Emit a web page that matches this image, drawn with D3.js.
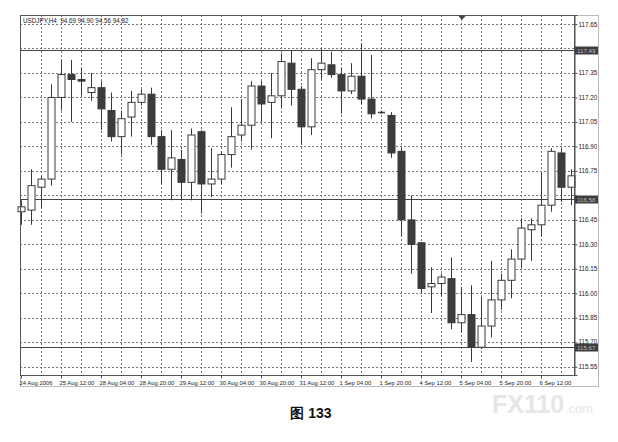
<!DOCTYPE html>
<html>
<head>
<meta charset="utf-8">
<script src="https://cdn.jsdelivr.net/npm/d3@7/dist/d3.min.js"></script>
<style>
  html, body { margin: 0; padding: 0; background: #fff; }
  svg { display: block; }
  text { font-family: "Liberation Sans", Arial, sans-serif; }
</style>
</head>
<body>
<svg id="chart" width="618" height="442"></svg>
<script>
// ---- data ----
const openVals  = [116.50,116.51,116.65,116.70,117.20,117.34,117.31,117.23,117.26,117.12,
                   116.96,117.08,117.17,117.22,116.96,116.76,116.82,116.68,116.99,116.67,
                   116.70,116.85,116.97,117.03,117.27,117.17,117.21,117.41,117.25,117.02,
                   117.37,117.40,117.34,117.24,117.33,117.19,117.11,117.09,116.87,116.45,
                   116.31,116.04,116.06,116.09,115.82,115.87,115.67,115.80,115.96,116.08,
                   116.21,116.39,116.42,116.54,116.86,116.65];
const highVals  = [116.57,116.76,116.72,117.28,117.43,117.43,117.38,117.35,117.30,117.23,
                   117.12,117.24,117.25,117.26,117.00,117.00,116.88,117.01,117.00,116.89,
                   116.87,117.14,117.19,117.30,117.30,117.35,117.47,117.49,117.27,117.44,
                   117.50,117.48,117.38,117.41,117.53,117.46,117.12,117.11,116.89,116.60,
                   116.31,116.16,116.12,116.22,116.04,116.05,115.98,116.20,116.12,116.27,
                   116.46,116.46,116.74,116.89,116.89,116.76];
const lowVals   = [116.42,116.42,116.52,116.66,117.12,117.05,117.21,117.18,117.00,116.93,
                   116.85,116.96,117.15,116.91,116.67,116.57,116.57,116.57,116.49,116.59,
                   116.67,116.77,116.93,116.88,117.05,116.95,117.14,117.15,116.91,116.97,
                   117.31,117.32,117.10,117.22,117.16,117.07,117.10,116.83,116.35,116.12,
                   116.00,115.88,115.98,115.78,115.76,115.58,115.66,115.73,115.90,115.97,
                   116.16,116.20,116.35,116.50,116.56,116.54];
const closeVals = [116.53,116.66,116.70,117.20,117.34,117.31,117.30,117.26,117.13,116.96,
                   117.07,117.17,117.22,116.96,116.76,116.83,116.68,116.97,116.67,116.70,
                   116.85,116.96,117.03,117.27,117.16,117.21,117.42,117.25,117.02,117.37,
                   117.41,117.34,117.24,117.33,117.19,117.10,117.11,116.86,116.45,116.30,
                   116.03,116.06,116.10,115.82,115.87,115.67,115.80,115.96,116.08,116.21,
                   116.40,116.42,116.54,116.87,116.65,116.72];

const xTickLabels = ["24 Aug 2006","25 Aug 12:00","28 Aug 04:00","28 Aug 20:00","29 Aug 12:00",
                     "30 Aug 04:00","30 Aug 20:00","31 Aug 12:00","1 Sep 04:00","1 Sep 20:00",
                     "4 Sep 12:00","5 Sep 04:00","5 Sep 20:00","6 Sep 12:00"];
const yTickValues = [115.55,115.70,115.85,116.00,116.15,116.30,116.45,116.60,116.75,116.90,
                     117.05,117.20,117.35,117.50,117.65];
const yTickLabels = ["115.55","115.70","115.85","116.00","116.15","116.30","116.45","",
                     "116.75","116.90","117.05","117.20","117.35","","117.65"];
const levelVals   = [117.49, 116.58, 115.67];
const levelLabels = ["117.49", "116.58", "115.67"];
const titleText   = "USDJPY,H4  94.69 94.90 94.56 94.82";
const captionText = "图 133";

// ---- layout ----
const L = 20, R = 574, T = 15, B = 375;
const svg = d3.select("#chart");
const idx = d3.range(openVals.length);

const x = d3.scalePoint().domain(idx).range([21, 571]);
const y = d3.scaleLinear().domain([115.50, 117.705]).range([B, T]);

// outer frame
svg.append("rect").attr("x", L + 0.5).attr("y", T + 0.5)
  .attr("width", 598 - L).attr("height", 386 - T)
  .attr("fill", "none").attr("stroke", "#bbb");

// grid
const gridCol = "#777";
svg.append("g").selectAll("line").data(yTickValues).join("line")
  .attr("x1", L).attr("x2", R)
  .attr("y1", d => Math.round(y(d)) + 0.5).attr("y2", d => Math.round(y(d)) + 0.5)
  .attr("stroke", gridCol).attr("stroke-dasharray", "2,2").attr("stroke-width", 1);
svg.append("g").selectAll("line").data(idx.filter(i => i > 0 && i % 2 === 0)).join("line")
  .attr("x1", d => x(d) + 0.5).attr("x2", d => x(d) + 0.5)
  .attr("y1", T).attr("y2", B)
  .attr("stroke", gridCol).attr("stroke-dasharray", "2,2").attr("stroke-width", 1);

// horizontal level lines
svg.append("g").selectAll("line").data(levelVals).join("line")
  .attr("x1", L).attr("x2", R)
  .attr("y1", d => Math.round(y(d)) + 0.5).attr("y2", d => Math.round(y(d)) + 0.5)
  .attr("stroke", "#444").attr("stroke-width", 1);

// candles
const g = svg.append("g");
const bw = 7;
idx.forEach(i => {
  const o = openVals[i], c = closeVals[i], h = highVals[i], l = lowVals[i];
  const cx = x(i) + 0.5;
  g.append("line").attr("x1", cx).attr("x2", cx)
    .attr("y1", y(h)).attr("y2", y(l))
    .attr("stroke", "#3a3a3a").attr("stroke-width", 1);
  const top = y(Math.max(o, c)), bot = y(Math.min(o, c));
  if (bot - top < 1.5) {
    g.append("line").attr("x1", cx - bw / 2).attr("x2", cx + bw / 2)
      .attr("y1", Math.round(top) + 0.5).attr("y2", Math.round(top) + 0.5)
      .attr("stroke", "#3a3a3a").attr("stroke-width", 1.5);
  } else {
    g.append("rect").attr("x", cx - bw / 2).attr("y", top)
      .attr("width", bw).attr("height", bot - top)
      .attr("fill", c >= o ? "#fff" : "#3c3c3c")
      .attr("stroke", "#3a3a3a").attr("stroke-width", 1);
  }
});

// plot border
svg.append("rect").attr("x", L + 0.5).attr("y", T + 0.5)
  .attr("width", R - L).attr("height", B - T)
  .attr("fill", "none").attr("stroke", "#555");

// y axis
const yAxis = d3.axisRight(y).tickValues(yTickValues)
  .tickFormat((d, i) => yTickLabels[i]).tickSize(3).tickPadding(1);
const ya = svg.append("g").attr("transform", `translate(${R + 0.5},0)`).call(yAxis);
ya.select(".domain").attr("stroke", "#555");
ya.selectAll(".tick line").attr("stroke", "#555");
ya.selectAll(".tick text").attr("font-size", 6.3).attr("fill", "#222")
  .attr("font-family", "Liberation Sans, Arial, sans-serif");
// nudge the 115.70 label up slightly so it clears the highlighted 115.67 box
ya.selectAll(".tick").filter(d => Math.abs(d - 115.70) < 1e-6).select("text").attr("dy", "0.12em");

// level labels (highlighted)
levelVals.forEach((v, k) => {
  const yy = Math.round(y(v));
  svg.append("rect").attr("x", R + 1).attr("y", yy - 3.5).attr("width", 23).attr("height", 8)
    .attr("fill", "#3e3e3e");
  svg.append("text").attr("x", R + 3).attr("y", yy + 2.6).text(levelLabels[k])
    .attr("font-size", 6.2).attr("fill", "#bbb");
});

// x axis
const xTickIdx = idx.filter(i => i % 4 === 0);
const xAxis = d3.axisBottom(x).tickValues(xTickIdx)
  .tickFormat((d, i) => xTickLabels[i]).tickSize(3).tickPadding(2);
const xa = svg.append("g").attr("transform", `translate(0,${B + 0.5})`).call(xAxis);
xa.select(".domain").remove();
xa.selectAll(".tick line").attr("stroke", "#555");
xa.selectAll("text").attr("font-size", 5.9).attr("fill", "#222")
  .attr("text-anchor", "start").attr("dx", -2)
  .attr("font-family", "Liberation Sans, Arial, sans-serif");

// title
svg.append("text").attr("x", 23).attr("y", 23).text(titleText)
  .attr("font-size", 6.3).attr("fill", "#222").attr("xml:space", "preserve");

// shift marker
svg.append("path").attr("d", "M458,15.5 L466,15.5 L462,20 Z").attr("fill", "#444");

// caption
svg.append("text").attr("x", 311).attr("y", 418).attr("text-anchor", "middle")
  .text(captionText).attr("font-size", 14).attr("font-weight", "bold").attr("fill", "#111")
  .attr("font-family", "Liberation Serif, 'Noto Sans CJK SC', serif");

// watermark
svg.append("text").attr("x", 492).attr("y", 413).text("FX110")
  .attr("font-size", 25).attr("font-weight", "bold").attr("fill", "#e6e6e6")
  .attr("font-family", "Liberation Sans, Arial, sans-serif");
svg.append("text").attr("x", 565).attr("y", 413).text(".com")
  .attr("font-size", 13).attr("fill", "#e6e6e6")
  .attr("font-family", "Liberation Sans, Arial, sans-serif");
</script>
</body>
</html>
